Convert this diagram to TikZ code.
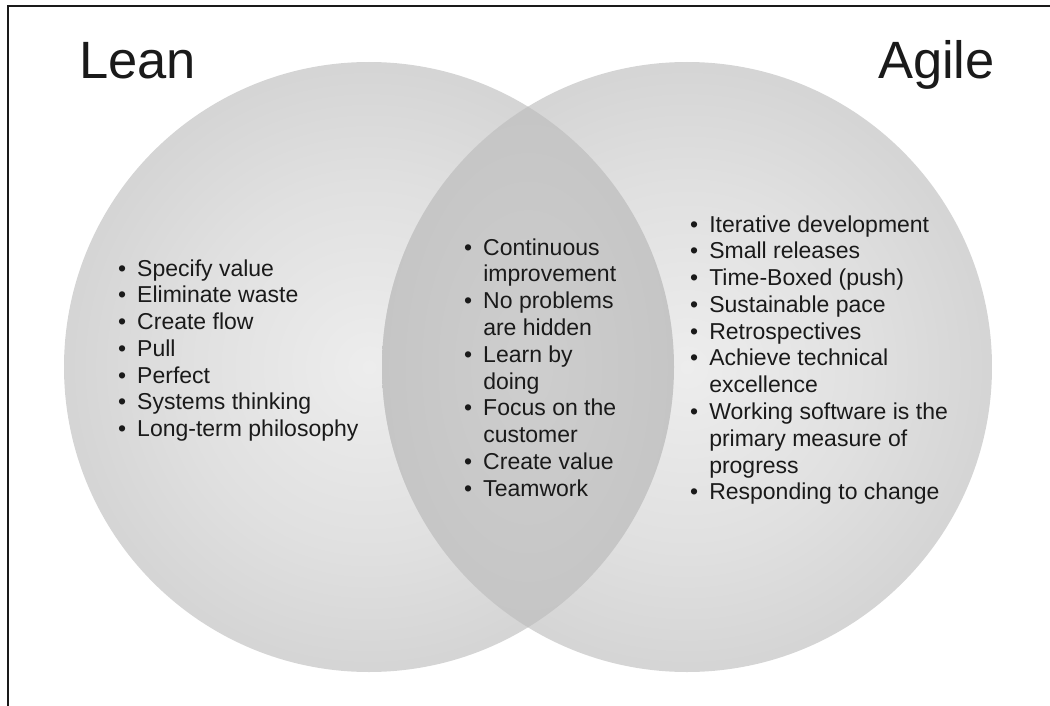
\documentclass[tikz,border=0pt]{standalone}
\usepackage{fontspec}
\setmainfont{Liberation Sans}

% greys for the two sets and their overlap
\definecolor{setcore}{HTML}{EDEDED}
\definecolor{setmid}{HTML}{E0E0E0}
\definecolor{setouter}{HTML}{C9C9C9}
\definecolor{setrim}{HTML}{ADADAD}
\definecolor{lenscore}{HTML}{CECECE}
\definecolor{lensmid}{HTML}{C3C3C3}
\definecolor{lensrim}{HTML}{B0B0B0}
\definecolor{ink}{HTML}{1A1A1A}

\pgfdeclareradialshading{setball}{\pgfpoint{0bp}{0bp}}{%
  color(0bp)=(setcore); color(15bp)=(setmid); color(35bp)=(setouter); color(50bp)=(setrim)}
\pgfdeclareradialshading{lensball}{\pgfpoint{0bp}{0bp}}{%
  color(0bp)=(lenscore); color(30bp)=(lensmid); color(50bp)=(lensrim)}

\tikzset{
  settitle/.style={inner sep=0pt, text=ink, font=\fontsize{52.5}{62}\selectfont},
  itemlist/.style={inner sep=0pt, anchor=base west, text=ink,
                   font=\fontsize{23}{26.8}\selectfont},
  frameline/.style={line width=2pt, draw=ink}
}

\newcommand{\bulletlist}[1]{\begin{tabular}[t]{@{}l@{\hspace{11pt}}l@{}}#1\end{tabular}}

\begin{document}
\begin{tikzpicture}[x=1pt, y=-1pt]
  \useasboundingbox (0,0) rectangle (1050,706);

  % the two sets
  \shade[shading=setball] (369,367) circle [radius=305pt];
  \shade[shading=setball] (687,367) circle [radius=305pt];

  % their overlap
  \begin{scope}
    \clip (369,367) circle [radius=305pt];
    \clip (687,367) circle [radius=305pt];
    \shade[shading=lensball] (528,367) ellipse [x radius=150pt, y radius=262pt];
  \end{scope}

  % frame along the top and left side
  \draw[frameline] (1050,6) -- (8,6) -- (8,706);

  % set titles
  \node[settitle, anchor=base west] (lean)  at (79,79)  {Lean};
  \node[settitle, anchor=base east] (agile) at (995,79) {Agile};

  % Lean only
  \node[itemlist] (leanlist) at (118,276) {\bulletlist{%
    \textbullet & Specify value\\
    \textbullet & Eliminate waste\\
    \textbullet & Create flow\\
    \textbullet & Pull\\
    \textbullet & Perfect\\
    \textbullet & Systems thinking\\
    \textbullet & Long-term philosophy}};

  % shared by both
  \node[itemlist] (sharedlist) at (464,255) {\bulletlist{%
    \textbullet & Continuous\\
                & improvement\\
    \textbullet & No problems\\
                & are hidden\\
    \textbullet & Learn by\\
                & doing\\
    \textbullet & Focus on the\\
                & customer\\
    \textbullet & Create value\\
    \textbullet & Teamwork}};

  % Agile only
  \node[itemlist] (agilelist) at (690,232) {\bulletlist{%
    \textbullet & Iterative development\\
    \textbullet & Small releases\\
    \textbullet & Time-Boxed (push)\\
    \textbullet & Sustainable pace\\
    \textbullet & Retrospectives\\
    \textbullet & Achieve technical\\
                & excellence\\
    \textbullet & Working software is the\\
                & primary measure of\\
                & progress\\
    \textbullet & Responding to change}};
\end{tikzpicture}
\end{document}
